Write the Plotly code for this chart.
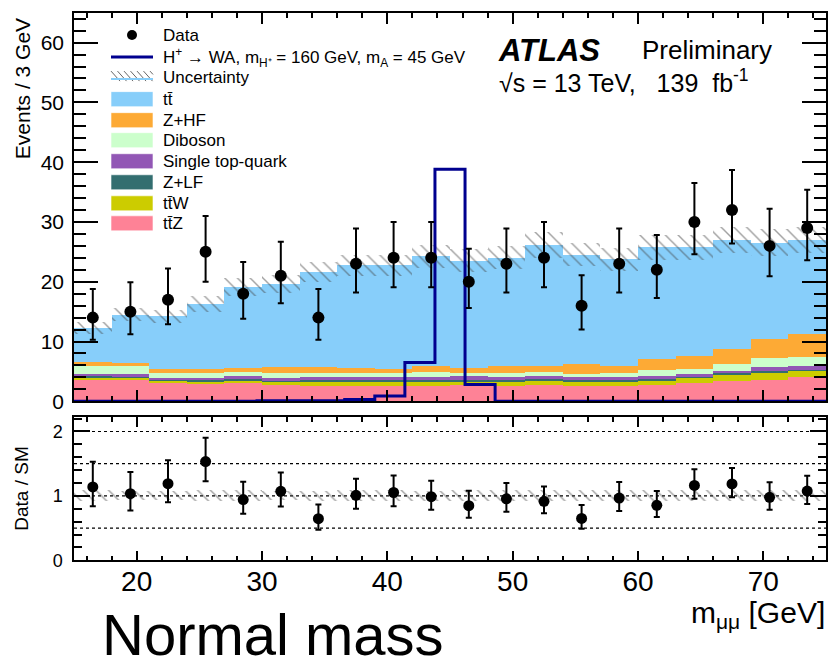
import numpy as np
import plotly.graph_objects as go

W, H = 829, 667
H_EFF = 655  # effective vertical extent observed for the rendered figure
FONT = "Liberation Sans, Arial, Helvetica, sans-serif"

# ---------------- data ----------------
bin_centers = [16.5, 19.5, 22.5, 25.5, 28.5, 31.5, 34.5, 37.5, 40.5, 43.5,
               46.5, 49.5, 52.5, 55.5, 58.5, 61.5, 64.5, 67.5, 70.5, 73.5]
bin_width = 3.0

ttZ = [3.7, 3.6, 3.2, 2.9, 3.1, 2.7, 2.6, 2.6, 2.6, 2.6,
       2.7, 2.6, 2.7, 2.6, 2.6, 2.75, 3.05, 3.4, 3.65, 4.15]
ttW = [0.3, 0.35, 0.3, 0.45, 0.5, 0.6, 0.7, 0.75, 0.75, 0.7,
       0.7, 0.75, 0.75, 0.75, 0.8, 0.85, 0.9, 1.05, 1.25, 1.0]
ZLF = [0.3, 0.2, 0.2, 0.2, 0.2, 0.2, 0.25, 0.25, 0.25, 0.25,
       0.25, 0.25, 0.25, 0.2, 0.2, 0.2, 0.2, 0.3, 0.3, 0.2]
single_top = [0.3, 0.4, 0.3, 0.4, 0.45, 0.5, 0.5, 0.55, 0.55, 0.55,
              0.55, 0.5, 0.55, 0.5, 0.5, 0.45, 0.45, 0.45, 0.55, 0.55]
diboson = [1.4, 1.45, 0.7, 0.8, 0.7, 0.8, 0.8, 0.7, 0.6, 0.85,
           0.6, 0.75, 0.7, 0.6, 0.75, 1.0, 0.9, 1.1, 1.5, 1.55]
ZHF = [0.7, 0.5, 0.7, 0.75, 0.75, 1.0, 0.95, 0.85, 0.65, 1.05,
       0.75, 1.15, 0.95, 1.65, 1.15, 1.9, 2.2, 2.55, 3.25, 3.8]
ttbar = [5.6, 8.0, 8.9, 10.8, 13.4, 13.8, 15.9, 17.1, 17.4, 18.3,
         18.05, 18.1, 20.3, 18.3, 17.8, 18.65, 18.1, 18.15, 16.1, 15.75]
bkg_unc = [1.0, 1.1, 1.1, 1.3, 1.5, 1.5, 1.7, 1.8, 1.8, 1.9,
           1.9, 1.9, 2.1, 2.0, 1.9, 2.1, 2.1, 2.2, 2.2, 2.2]

data = [14, 15, 17, 25, 18, 21, 14, 23, 24, 24,
        20, 23, 24, 16, 23, 22, 30, 32, 26, 29]
data_err_up = [4.8, 4.9, 5.2, 6.0, 5.3, 5.7, 4.8, 5.9, 6.0, 6.0,
               5.5, 5.9, 6.0, 5.1, 5.9, 5.8, 6.5, 6.7, 6.2, 6.4]
data_err_dn = [3.7, 3.8, 4.1, 5.0, 4.2, 4.6, 3.7, 4.8, 4.9, 4.9,
               4.4, 4.8, 4.9, 4.0, 4.8, 4.7, 5.4, 5.6, 5.1, 5.4]

sig_edges = [15, 29.6, 36.6, 39.0, 41.4, 43.8, 46.2, 48.6, 75]
sig_vals = [0, 0.1, 0.3, 0.9, 6.5, 38.8, 2.8, 0]

x_ticks = [20, 30, 40, 50, 60, 70]

stack = [  # bottom -> top
    ("ttZ", ttZ, "#fe8296"),
    ("ttW", ttW, "#cccc00"),
    ("Z+LF", ZLF, "#336e70"),
    ("Single top-quark", single_top, "#9257b5"),
    ("Diboson", diboson, "#ccffcc"),
    ("Z+HF", ZHF, "#fdaa35"),
    ("ttbar", ttbar, "#87cefa"),
]

# ---------------- figure ----------------
def px(x):
    return x / W

def py(y):
    return 1 - y / H_EFF

fig = go.Figure()

base = np.zeros(len(bin_centers))
for name, vals, col in stack:
    v = np.array(vals)
    fig.add_trace(go.Bar(x=bin_centers, y=v, base=base.copy(), width=bin_width,
                         marker=dict(color=col, line=dict(width=0)), opacity=1,
                         xaxis="x", yaxis="y", showlegend=False, name=name))
    base = base + v
total = base
unc = np.array(bkg_unc)

hatch = dict(shape="\\", size=9, solidity=0.16, fgcolor="#444444", bgcolor="rgba(0,0,0,0)")

# uncertainty hatch (main)
fig.add_trace(go.Bar(x=bin_centers, y=2 * unc, base=total - unc, width=bin_width,
                     marker=dict(color="rgba(0,0,0,0)", line=dict(width=0), pattern=hatch),
                     xaxis="x", yaxis="y", showlegend=False))

# signal
fig.add_trace(go.Scatter(x=sig_edges, y=sig_vals + [sig_vals[-1]], mode="lines",
                         line=dict(shape="hv", color="#00008f", width=3),
                         xaxis="x", yaxis="y", showlegend=False))

# data
fig.add_trace(go.Scatter(x=bin_centers, y=data, mode="markers",
                         marker=dict(color="black", size=12),
                         error_y=dict(type="data", symmetric=False, array=data_err_up,
                                      arrayminus=data_err_dn, color="black",
                                      thickness=2, width=3),
                         xaxis="x", yaxis="y", showlegend=False))

# ratio panel
d = np.array(data, dtype=float)
ratio = d / total
r_up = np.array(data_err_up) / total
r_dn = np.array(data_err_dn) / total
rel = unc / total
fig.add_trace(go.Bar(x=bin_centers, y=2 * rel, base=1 - rel, width=bin_width,
                     marker=dict(color="rgba(0,0,0,0)", line=dict(width=0), pattern=hatch),
                     xaxis="x2", yaxis="y2", showlegend=False))
fig.add_trace(go.Scatter(x=bin_centers, y=ratio, mode="markers",
                         marker=dict(color="black", size=11),
                         error_y=dict(type="data", symmetric=False, array=r_up,
                                      arrayminus=r_dn, color="black",
                                      thickness=2, width=3),
                         xaxis="x2", yaxis="y2", showlegend=False))

shapes = []
for lv in [0.5, 1.0, 1.5, 2.0]:
    shapes.append(dict(type="line", xref="x2 domain", yref="y2", x0=0, x1=1, y0=lv, y1=lv,
                       line=dict(color="black", width=1.2, dash="dot"), layer="below"))

# ---------------- manual legend ----------------
annotations = []
leg_x0, leg_x1 = 111, 153
text_x = 161
leg_font = dict(family=FONT, size=17, color="black")

def leg_text(txt, yc):
    annotations.append(dict(text=txt, x=px(text_x), y=py(yc), xref="paper", yref="paper",
                            xanchor="left", yanchor="middle", showarrow=False, font=leg_font))

# Data
shapes.append(dict(type="circle", xref="paper", yref="paper",
                   x0=px(127), x1=px(137), y0=py(40), y1=py(30),
                   fillcolor="black", line=dict(color="black", width=0)))
leg_text("Data", 35)
# Signal
shapes.append(dict(type="line", xref="paper", yref="paper", x0=px(leg_x0), x1=px(leg_x1),
                   y0=py(57), y1=py(57), line=dict(color="#00008f", width=3)))
leg_text("H<sup>+</sup> \u2192 WA, m<sub>H\u207a</sub> = 160 GeV, m<sub>A</sub> = 45 GeV", 57)
# Uncertainty
for k in range(7):
    xs = leg_x0 + k * 6.5
    xe = min(xs + 9, leg_x1)
    shapes.append(dict(type="line", xref="paper", yref="paper", x0=px(xs), x1=px(xe),
                       y0=py(71), y1=py(71 + (xe - xs) * 10 / 9),
                       line=dict(color="#666666", width=1)))
shapes.append(dict(type="line", xref="paper", yref="paper", x0=px(leg_x0), x1=px(leg_x1),
                   y0=py(79), y1=py(79), line=dict(color="#87cefa", width=2)))
leg_text("Uncertainty", 77)

leg_boxes = [
    ("t\u0074\u0304", "#87cefa", 99),
    ("Z+HF", "#fdaa35", 120),
    ("Diboson", "#ccffcc", 140),
    ("Single top-quark", "#9257b5", 161),
    ("Z+LF", "#336e70", 182),
    ("t\u0074\u0304W", "#cccc00", 203),
    ("t\u0074\u0304Z", "#fe8296", 223),
]
for txt, col, yc in leg_boxes:
    shapes.append(dict(type="rect", xref="paper", yref="paper", x0=px(leg_x0), x1=px(leg_x1),
                       y0=py(yc + 7.5), y1=py(yc - 7.5), fillcolor=col,
                       line=dict(color="rgba(255,255,255,0.6)", width=1)))
    leg_text(txt, yc)

# ATLAS label
annotations.append(dict(text="<b><i>ATLAS</i></b>", x=px(496), y=py(50), xref="paper", yref="paper",
                        xanchor="left", yanchor="middle", showarrow=False,
                        font=dict(family=FONT, size=31, color="black")))
annotations.append(dict(text="Preliminary", x=px(640), y=py(50), xref="paper", yref="paper",
                        xanchor="left", yanchor="middle", showarrow=False,
                        font=dict(family=FONT, size=26, color="black")))
annotations.append(dict(text="\u221as = 13 TeV,\u00a0\u00a0\u00a0139\u00a0\u00a0fb<sup>-1</sup>",
                        x=px(497), y=py(81), xref="paper", yref="paper",
                        xanchor="left", yanchor="middle", showarrow=False,
                        font=dict(family=FONT, size=25, color="black")))

# axis titles
annotations.append(dict(text="Events / 3 GeV", x=px(22), y=py(89), xref="paper", yref="paper",
                        xanchor="center", yanchor="middle", textangle=-90, showarrow=False,
                        font=dict(family=FONT, size=21, color="black")))
annotations.append(dict(text="Data / SM", x=px(22), y=py(488), xref="paper", yref="paper",
                        xanchor="center", yanchor="middle", textangle=-90, showarrow=False,
                        font=dict(family=FONT, size=19, color="black")))
annotations.append(dict(text="m<sub>\u03bc\u03bc</sub> [GeV]", x=px(827), y=py(614), xref="paper", yref="paper",
                        xanchor="right", yanchor="middle", showarrow=False,
                        font=dict(family=FONT, size=30, color="black")))
annotations.append(dict(text="Normal mass", x=px(100), y=py(634), xref="paper", yref="paper",
                        xanchor="left", yanchor="middle", showarrow=False,
                        font=dict(family=FONT, size=58, color="black")))

x_dom = [px(74), px(826)]
axis_common = dict(showline=True, linecolor="black", linewidth=1.5, mirror="ticks",
                   ticks="inside", tickcolor="black", tickwidth=1.5, showgrid=False,
                   zeroline=False)

fig.update_layout(
    width=W, height=H, margin=dict(l=0, r=0, t=0, b=0),
    paper_bgcolor="white", plot_bgcolor="white",
    barmode="overlay", bargap=0, showlegend=False,
    font=dict(family=FONT, color="black"),
    xaxis=dict(domain=x_dom, anchor="y", range=[15, 75], tickvals=x_ticks, showticklabels=False,
               ticklen=12, minor=dict(dtick=2, tick0=0, ticklen=6, ticks="inside",
                                      tickcolor="black", tickwidth=1.5), **axis_common),
    yaxis=dict(domain=[py(400.7), py(12.7)], anchor="x", range=[0, 65], dtick=10, tick0=0,
               ticklen=24, minor=dict(dtick=2, tick0=0, ticklen=12, ticks="inside",
                                      tickcolor="black", tickwidth=1.5),
               tickfont=dict(size=21, family=FONT, color="black"), ticklabelstandoff=4,
               **axis_common),
    xaxis2=dict(domain=x_dom, anchor="y2", range=[15, 75], tickvals=x_ticks,
                ticktext=[str(t) for t in x_ticks],
                ticklen=10, minor=dict(dtick=2, tick0=0, ticklen=5, ticks="inside",
                                       tickcolor="black", tickwidth=1.5),
                tickfont=dict(size=28, family=FONT, color="black"), ticklabelstandoff=-5,
                **axis_common),
    yaxis2=dict(domain=[py(559.4), py(416.7)], anchor="x2", range=[0, 2.22], tickvals=[0, 1, 2],
                ticklen=16, minor=dict(dtick=0.2, tick0=0, ticklen=8, ticks="inside",
                                       tickcolor="black", tickwidth=1.5),
                tickfont=dict(size=18, family=FONT, color="black"), ticklabelstandoff=6,
                **axis_common),
    shapes=shapes, annotations=annotations,
)

fig.write_html("out.html")
